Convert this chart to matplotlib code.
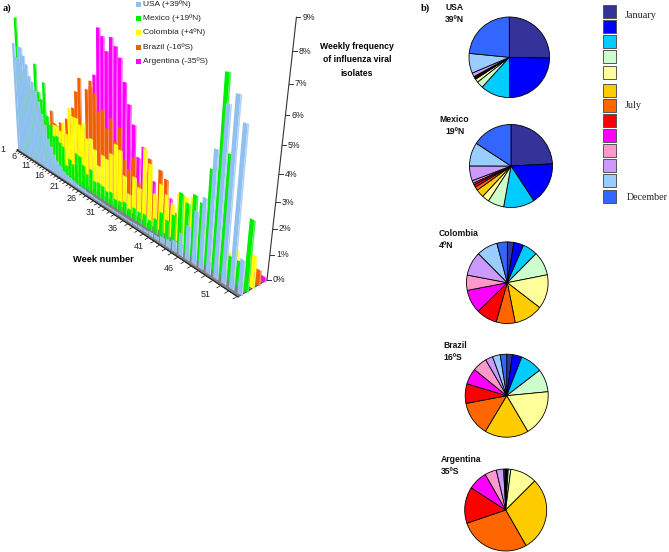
import numpy as np
import matplotlib
matplotlib.use('Agg')
import matplotlib.pyplot as plt
from matplotlib.patches import Polygon, Rectangle
from matplotlib.colors import to_rgb

plt.rcParams['font.family'] = ['Liberation Sans', 'DejaVu Sans']

W, H = 669, 552

weeks = list(range(1, 53))
week_labels = [1, 6, 11, 16, 21, 26, 31, 36, 41, 46, 51]
pct_ticks = list(range(0, 10))

usa = [7.4, 6.5, 7.2, 7.2, 6.7, 6.2, 5.5, 5.2, 4.7, 4.1, 3.4, 2.8, 2.0, 1.6, 1.2, 0.9, 0.7, 0.5, 0.4, 0.35,
       0.3, 0.25, 0.2, 0.2, 0.15, 0.15, 0.12, 0.12, 0.1, 0.1, 0.1, 0.1, 0.1, 0.1, 0.1, 0.12, 0.15, 0.15, 0.2, 0.2,
       0.3, 0.35, 0.5, 1.0, 1.5, 2.3, 3.0, 5.0, 6.7, 7.1, 6.2, 1.4]
mexico = [8.9, 5.5, 5.5, 5.5, 5.0, 4.5, 4.5, 6.2, 4.5, 4.1, 5.2, 3.2, 2.7, 2.1, 2.2, 1.9, 1.75, 0.7, 1.2, 1.0,
          1.75, 1.7, 1.3, 0.9, 1.3, 0.75, 0.8, 0.75, 0.6, 0.7, 0.45, 0.5, 0.6, 0.4, 0.6, 0.55, 0.6, 0.45, 0.7, 1.15,
          0.95, 1.35, 2.5, 2.2, 2.7, 2.5, 4.0, 7.6, 4.8, 1.0, 1.0, 2.8]
colombia = [0.6, 0.6, 0.6, 0.7, 0.8, 0.9, 1.0, 1.0, 1.2, 1.4, 1.6, 2.0, 2.6, 2.6, 2.4, 3.0, 2.4, 4.0, 3.6, 3.6,
            3.3, 3.5, 2.7, 2.8, 2.3, 1.5, 2.2, 2.1, 2.5, 3.1, 2.9, 1.7, 0.9, 1.9, 1.5, 3.5, 2.9, 1.6, 2.2, 1.85,
            1.6, 2.2, 2.2, 2.3, 1.45, 1.8, 1.0, 0.9, 0.9, 1.15, 0.8, 1.3]
brazil = [0.4, 0.5, 0.5, 0.6, 0.7, 0.9, 0.9, 1.2, 1.5, 2.0, 3.2, 2.5, 2.4, 2.7, 2.2, 3.1, 3.5, 3.9, 4.9, 5.7,
          3.0, 5.2, 5.7, 5.1, 4.2, 4.4, 3.5, 4.1, 3.0, 3.8, 2.3, 1.9, 2.6, 1.5, 1.2, 2.9, 1.3, 2.6, 2.3, 1.0,
          1.0, 0.7, 0.6, 0.5, 0.5, 0.4, 0.4, 0.4, 0.4, 0.5, 0.6, 0.6]
argentina = [0.1, 0.1, 0.05, 0.05, 0.1, 0.1, 0.05, 0.05, 0.1, 0.1, 0.1, 0.1, 0.2, 0.2, 0.3, 0.4, 0.5, 0.7, 1.0, 1.2,
             2.0, 5.2, 5.9, 8.3, 7.9, 7.2, 7.9, 7.5, 7.0, 5.9, 4.9, 4.0, 2.5, 3.1, 2.0, 1.7, 1.0, 0.8, 1.3, 0.5,
             0.3, 0.3, 0.2, 0.2, 0.15, 0.1, 0.1, 0.1, 0.1, 0.1, 0.2, 0.2]

series_names = ['USA (+39ºN)', 'Mexico (+19ºN)', 'Colombia (+4ºN)', 'Brazil (-16ºS)', 'Argentina (-35ºS)']
series_values = [usa, mexico, colombia, brazil, argentina]
series_colors = ['#8fc0f0', '#00ee00', '#ffff00', '#f06000', '#ff00ff']

month_colors = ['#333399', '#0000ff', '#00ccff', '#ccffcc', '#ffff99', '#ffcc00', '#ff6600',
                '#ff0000', '#ff00ff', '#ff99cc', '#cc99ff', '#99ccff', '#3366ff']

pie_usa = [25.5, 24.7, 12, 2.7, 1.4, 0.3, 0.2, 0.2, 0.2, 0.3, 1.6, 8, 23.6]
pie_mexico = [24.2, 16.6, 12.1, 6.3, 2.8, 3.2, 1.4, 1, 0.7, 1, 5.8, 9.2, 15.8]
pie_colombia = [2.6, 3.9, 5.9, 9.4, 13.5, 11.4, 7.5, 8.2, 9.3, 6, 9.5, 8.3, 4.1]
pie_brazil = [2.2, 3.7, 8.6, 8.9, 18, 17, 13.4, 7.6, 6.2, 5.7, 2.9, 3, 2.5]
pie_argentina = [0.4, 0.2, 0.4, 1, 10.5, 29.2, 28, 14.3, 7.6, 4.6, 2.9, 0.5, 0.3]


def floor_matrix(corners):
    # unit square (u, d) -> picture pixels
    src = [(0, 0), (1, 0), (1, 1), (0, 1)]
    A, b = [], []
    for (u, d), (x, y) in zip(src, corners):
        A.append([u, d, 1, 0, 0, 0, -u * x, -d * x])
        A.append([0, 0, 0, u, d, 1, -u * y, -d * y])
        b += [x, y]
    h = np.linalg.solve(np.array(A, float), np.array(b, float))
    return np.append(h, 1).reshape(3, 3)


floor = [(17, 150), (238, 297), (267, 280), (31.5, 141.5)]
Hm = floor_matrix(floor)
vanish = np.array([108, 1700, 1.0])
g = -0.01735 * Hm[2].sum()
vcol = g * vanish


def project(u, d, v=0):
    p = Hm[:, 0] * u + Hm[:, 1] * d + vcol * v + Hm[:, 2]
    return p[0] / p[2], p[1] / p[2]


def week_u(w):
    return (w - 0.5) / 51.6


def lighter(c, f):
    r = np.array(to_rgb(c))
    return tuple(r + (1 - r) * f)


fig = plt.figure(figsize=(W / 100, H / 100), dpi=100)
ax = fig.add_axes([0, 0, 1, 1])
ax.set_xlim(0, W)
ax.set_ylim(H, 0)
ax.axis('off')

# floor
ax.add_patch(Polygon([project(0, 0), project(1, 0), project(1, 1), project(0, 1)],
                     facecolor='#808080', edgecolor='#404040', lw=0.6, zorder=1))
ax.plot(*zip(project(0, 0), project(1, 0)), color='#222222', lw=0.8, zorder=1)

# week ticks and labels
for w in weeks:
    u = week_u(w)
    ax.plot(*zip(project(u, 0), project(u, -0.14)), color='#333333', lw=0.6, zorder=1)
    if w in week_labels:
        x, y = project(u, -0.62)
        ax.text(x - 6, y - 7, str(w), fontsize=6.5, ha='center', va='center', color='#222222')

# frequency axis
ax.plot(*zip(project(1, 1, 0), project(1, 1, 9)), color='#333333', lw=0.8, zorder=1)
for p in pct_ticks:
    x, y = project(1, 1, p)
    ax.plot([x, x + 4], [y, y], color='#333333', lw=0.7, zorder=1)
    ax.text(x + 6, y, '%d%%' % p, fontsize=6.3, ha='left', va='center', color='#222222')

# bars, back to front
z = 2
for s in range(4, -1, -1):
    d = 0.1 + 0.2 * s
    col = series_colors[s]
    for w, v in zip(weeks, series_values[s]):
        u = week_u(w)
        bar_w = (0.7 - 0.38 * u) / 51.6
        l, r = u - bar_w, u + bar_w
        m = u + 0.5 * bar_w
        ax.add_patch(Polygon([project(l, d), project(m, d), project(m, d, v), project(l, d, v)],
                             facecolor=col, edgecolor='none', zorder=z))
        ax.add_patch(Polygon([project(m, d), project(r, d), project(r, d, v), project(m, d, v)],
                             facecolor=lighter(col, 0.3), edgecolor='none', zorder=z))
        z += 0.001

ax.text(103, 260, 'Week number', fontsize=6.7, fontweight='bold', ha='center', va='center')
ax.text(357, 60, 'Weekly frequency\nof influenza viral\nisolates', fontsize=6.2, fontweight='bold',
        ha='center', va='center', linespacing=1.7)
ax.text(3, 8, 'a)', fontsize=7.5, fontweight='bold', family='Liberation Serif', va='center')
ax.text(421, 8, 'b)', fontsize=7.5, fontweight='bold', family='Liberation Serif', va='center')

# series legend
leg_y = [4, 18, 32, 47, 61]
for name, col, y in zip(series_names, series_colors, leg_y):
    ax.add_patch(Rectangle((136, y - 2.5), 5, 5, facecolor=col, edgecolor='none'))
    ax.text(143, y, name, fontsize=6.0, ha='left', va='center', color='#222222')

# month legend
swatch_y = [5, 20, 35, 50, 66, 84, 99, 114, 129, 144, 159, 174, 190]
for col, y in zip(month_colors, swatch_y):
    ax.add_patch(Rectangle((603, y), 13, 13, facecolor=col, edgecolor='#555555', lw=0.7))
ax.text(625, 15, 'January', fontsize=7.3, family='Liberation Serif', va='center', color='#222222')
ax.text(625, 105, 'July', fontsize=7.3, family='Liberation Serif', va='center', color='#222222')
ax.text(627, 197, 'December', fontsize=7.2, family='Liberation Serif', va='center', color='#222222')

# pies
pies = [('USA', '39ºN', pie_usa, 509.3, 57.3, 40.3, 446, 445, 8),
        ('Mexico', '19ºN', pie_mexico, 511, 166, 41.5, 439, 445, 120),
        ('Colombia', '4ºN', pie_colombia, 507.3, 282.7, 40.8, 439, 439, 233),
        ('Brazil', '16ºS', pie_brazil, 506.7, 395.7, 41.5, 443, 443, 345),
        ('Argentina', '35ºS', pie_argentina, 505.7, 510, 41, 441, 441, 459)]
for name, lat, vals, cx, cy, rad, tx, lx, ty in pies:
    pa = fig.add_axes([(cx - rad) / W, 1 - (cy + rad) / H, 2 * rad / W, 2 * rad / H])
    pa.pie(vals, colors=month_colors, startangle=90, counterclock=False,
           wedgeprops={'edgecolor': 'black', 'linewidth': 0.6})
    pa.set_xlim(-1, 1)
    pa.set_ylim(-1, 1)
    for p in pa.patches:
        p.set_clip_on(False)
    ax.text(tx, ty, name, fontsize=6.2, fontweight='bold', ha='left', va='center', color='#111111')
    ax.text(lx, ty + 12, lat, fontsize=6.2, fontweight='bold', ha='left', va='center', color='#111111')

fig.savefig('out.png', dpi=100)
